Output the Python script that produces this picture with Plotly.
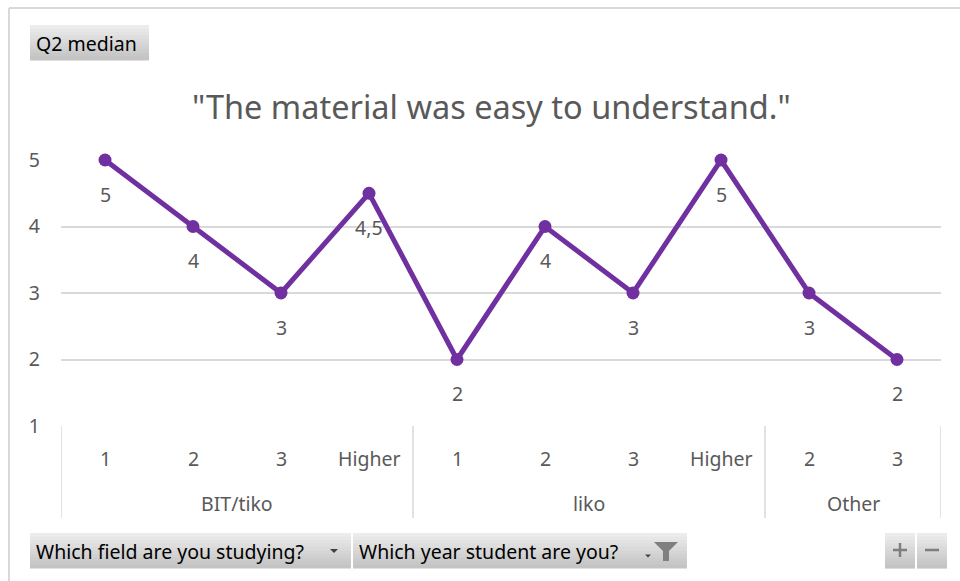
import plotly.graph_objects as go

# ---- data ----
fields = ["BIT/tiko", "BIT/tiko", "BIT/tiko", "BIT/tiko", "liko", "liko", "liko", "liko", "Other", "Other"]
years = ["1", "2", "3", "Higher", "1", "2", "3", "Higher", "2", "3"]
medians = [5, 4, 3, 4.5, 2, 4, 3, 5, 3, 2]
y_ticks = [1, 2, 3, 4, 5]
title_text = '"The material was easy to understand."'
button_text = "Q2 median"
filter1_text = "Which field are you studying?"
filter2_text = "Which year student are you?"

W, H = 960, 581
PL, PR, PT, PB = 61, 941, 160, 426  # plot area pixels

FONT = "Noto Sans"
GRAY = "#595959"
GRID = "#d9d9d9"
PURPLE = "#7030A0"
LBL = 19.5

def px(x):
    return (x - PL) / (PR - PL)

def py(y):
    return (PB - y) / (PB - PT)

xs = list(range(len(years)))

fig = go.Figure()
fig.add_trace(go.Scatter(
    x=xs, y=medians, mode="lines+markers",
    line=dict(color=PURPLE, width=5),
    marker=dict(color=PURPLE, size=13),
    cliponaxis=False, hoverinfo="skip", showlegend=False,
))

shapes = []
annotations = []

# data labels
for x, v in zip(xs, medians):
    lab = ("%g" % v).replace(".", ",")
    annotations.append(dict(x=x, y=v, xref="x", yref="y", text=lab, showarrow=False,
                            yshift=-34, font=dict(family=FONT, size=LBL, color=GRAY)))

# year labels
for x, yr in zip(xs, years):
    annotations.append(dict(x=x, y=py(458), xref="x", yref="paper", text=yr, showarrow=False,
                            font=dict(family=FONT, size=LBL, color=GRAY), yanchor="middle"))

# field groups
groups = []
for i, f in enumerate(fields):
    if not groups or groups[-1][0] != f:
        groups.append([f, i, i])
    else:
        groups[-1][2] = i
bounds = [-0.5]
for f, a, b in groups:
    annotations.append(dict(x=(a + b) / 2, y=py(503), xref="x", yref="paper", text=f, showarrow=False,
                            font=dict(family=FONT, size=LBL, color=GRAY), yanchor="middle"))
    bounds.append(b + 0.5)
for bx in bounds:
    shapes.append(dict(type="line", xref="x", yref="paper", x0=bx, x1=bx, y0=0, y1=py(518),
                       line=dict(color=GRID, width=1.5)))

# title
annotations.append(dict(x=px(491.5), y=py(106), xref="paper", yref="paper", text=title_text,
                        showarrow=False, font=dict(family=FONT, size=32.5, color=GRAY), yanchor="middle"))

# outer border
shapes.append(dict(type="line", xref="paper", yref="paper", x0=px(9), x1=px(962), y0=py(8), y1=py(8),
                   line=dict(color=GRID, width=2)))
shapes.append(dict(type="line", xref="paper", yref="paper", x0=px(9), x1=px(9), y0=py(8), y1=py(585),
                   line=dict(color=GRID, width=2)))

def button(x0, x1, y0, y1):
    n = 10
    top = (236, 236, 236)
    bot = (196, 196, 196)
    for k in range(n):
        t = k / (n - 1)
        c = tuple(int(top[j] + (bot[j] - top[j]) * t) for j in range(3))
        ya = y0 + (y1 - y0) * k / n
        yb = y0 + (y1 - y0) * (k + 1) / n
        shapes.append(dict(type="rect", xref="paper", yref="paper", x0=px(x0), x1=px(x1),
                           y0=py(ya), y1=py(yb + 0.6), fillcolor="rgb(%d,%d,%d)" % c,
                           line=dict(width=0), layer="above"))

button(30, 149, 25, 60)
annotations.append(dict(x=px(34), y=py(43), xref="paper", yref="paper", text=button_text, showarrow=False,
                        xanchor="left", yanchor="middle", font=dict(family=FONT, size=LBL, color="#000000")))

button(30, 351, 533, 568)
button(353, 687, 533, 568)
button(885, 915, 533, 568)
button(917, 947, 533, 568)
annotations.append(dict(x=px(34), y=py(551), xref="paper", yref="paper", text=filter1_text, showarrow=False,
                        xanchor="left", yanchor="middle", font=dict(family=FONT, size=LBL, color="#000000")))
annotations.append(dict(x=px(357), y=py(551), xref="paper", yref="paper", text=filter2_text, showarrow=False,
                        xanchor="left", yanchor="middle", font=dict(family=FONT, size=LBL, color="#000000")))

def tri(cx, cy, w, h, color):
    path = "M %f,%f L %f,%f L %f,%f Z" % (px(cx - w / 2), py(cy - h / 2), px(cx + w / 2), py(cy - h / 2), px(cx), py(cy + h / 2))
    shapes.append(dict(type="path", xref="paper", yref="paper", path=path, fillcolor=color,
                       line=dict(width=0), layer="above"))

tri(334, 551, 8, 4, "#404040")
tri(648, 556, 6, 3, "#404040")
# funnel
fpath = "M %f,%f L %f,%f L %f,%f L %f,%f L %f,%f L %f,%f Z" % (
    px(654), py(542), px(678), py(542), px(669), py(551), px(669), py(561), px(663), py(561), px(663), py(551))
shapes.append(dict(type="path", xref="paper", yref="paper", path=fpath, fillcolor="#7f7f7f",
                   line=dict(width=0), layer="above"))
# plus / minus glyphs
shapes.append(dict(type="line", xref="paper", yref="paper", x0=px(893), x1=px(907), y0=py(550), y1=py(550),
                   line=dict(color="#7f7f7f", width=2.5), layer="above"))
shapes.append(dict(type="line", xref="paper", yref="paper", x0=px(900), x1=px(900), y0=py(543), y1=py(557),
                   line=dict(color="#7f7f7f", width=2.5), layer="above"))
shapes.append(dict(type="line", xref="paper", yref="paper", x0=px(925), x1=px(939), y0=py(550), y1=py(550),
                   line=dict(color="#7f7f7f", width=2.5), layer="above"))

fig.update_layout(
    width=W, height=H,
    margin=dict(l=PL, r=W - PR, t=PT, b=H - PB, pad=0),
    paper_bgcolor="white", plot_bgcolor="white",
    shapes=shapes, annotations=annotations,
    xaxis=dict(range=[-0.5, len(years) - 0.5], showgrid=False, zeroline=False, showticklabels=False,
               showline=False, fixedrange=True),
    yaxis=dict(range=[1, 5], tickvals=y_ticks, showgrid=True, gridcolor=GRID, gridwidth=1.5,
               zeroline=False, showline=False, ticks="", ticklabelstandoff=20,
               tickfont=dict(family=FONT, size=LBL, color=GRAY), fixedrange=True),
    font=dict(family=FONT),
)

fig.write_html("out.html", config={"displayModeBar": False},
               post_script="document.body.style.margin='0px';document.body.style.overflow='hidden';")
